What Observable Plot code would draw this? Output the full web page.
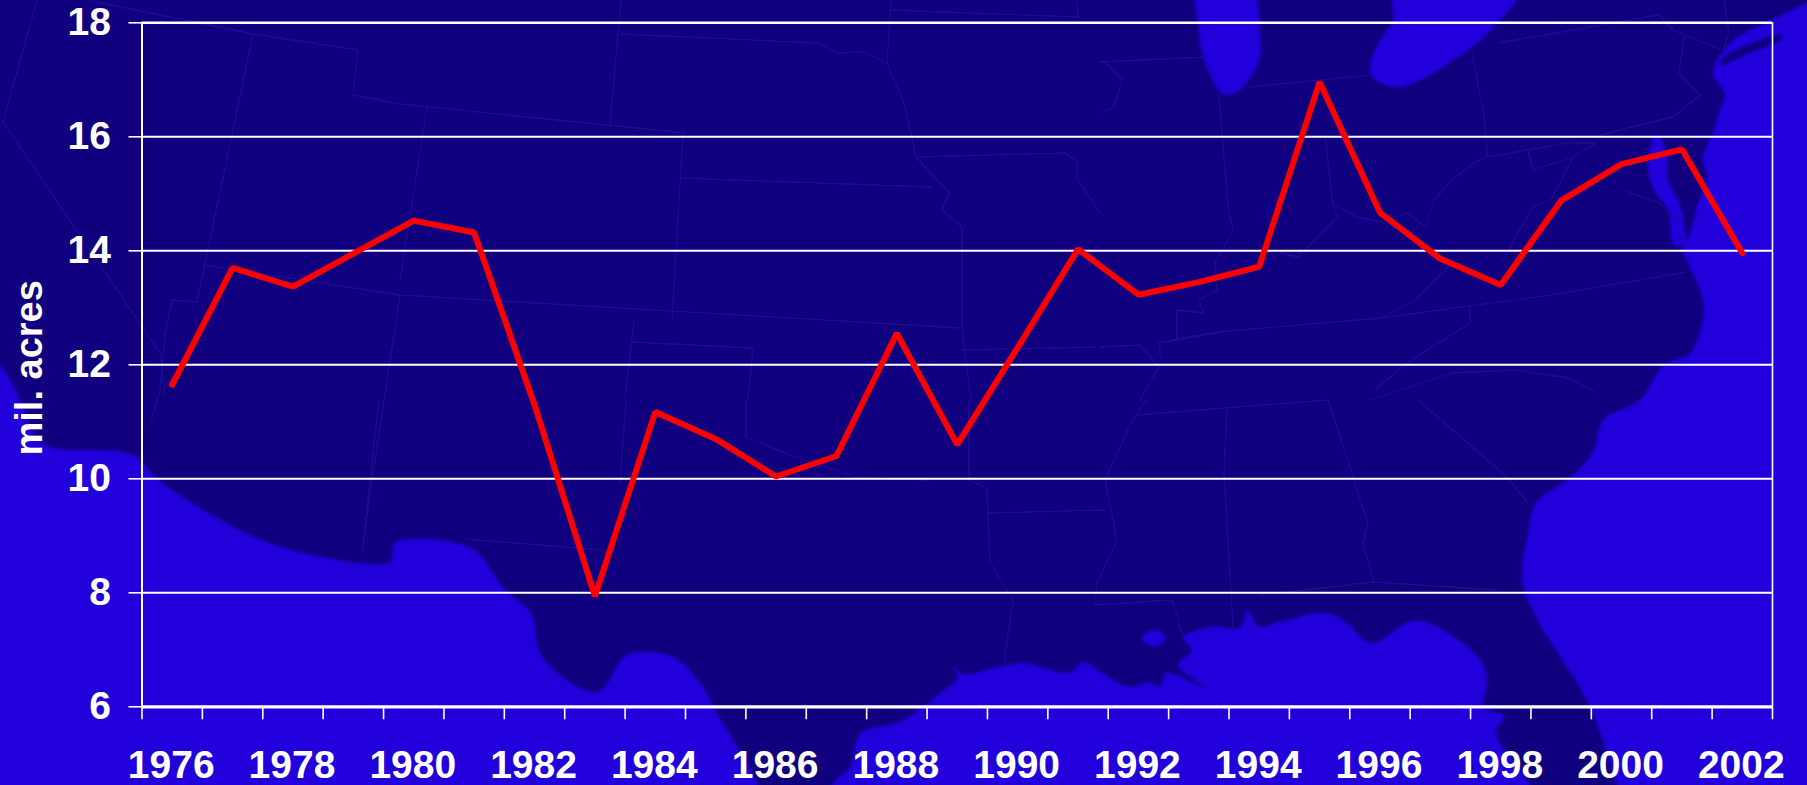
<!DOCTYPE html>
<html>
<head>
<meta charset="utf-8">
<script src="https://cdn.jsdelivr.net/npm/d3@7"></script>
<script src="https://cdn.jsdelivr.net/npm/@observablehq/plot@0.6"></script>
<style>
html,body{margin:0;padding:0;background:#2000dc;overflow:hidden}
#stage{position:relative;width:1807px;height:785px;overflow:hidden}
#stage svg{position:absolute;left:0;top:0;display:block}
</style>
</head>
<body>
<div id="stage"></div>
<script>
// Chart data
const years = [1976,1977,1978,1979,1980,1981,1982,1983,1984,1985,1986,1987,1988,1989,1990,1991,1992,1993,1994,1995,1996,1997,1998,1999,2000,2001,2002];
const acres = [11.65,13.7,13.37,13.95,14.53,14.32,11.3,7.94,11.17,10.7,10.04,10.4,12.55,10.6,12.3,14.03,13.23,13.45,13.72,16.96,14.67,13.86,13.4,14.88,15.52,15.78,13.96];
const yTicks = [6,8,10,12,14,16,18];
const yearLabels = [1976,1978,1980,1982,1984,1986,1988,1990,1992,1994,1996,1998,2000,2002];
const yAxisLabel = "mil. acres";

// Decorative backdrop (map of the eastern and central US), not data
const LAND = "#10007f", WATER = "#2000dc", BORDER = "#1c0d90";
const waterShapes = [
 "-30,340 0,365 17,393 37,437 50,447 133,455 161,482 275,545 390,562 392,552 396,542 471,548 505,590 531,613 542,657 597,692 623,658 637,652 675,658 703,687 715,710 758,785 770,830 -30,830",
 "820,830 832,785 850,767 861,733 900,722 940,693 958,677 952,667 964,674 998,667 1024,663 1068,673 1085,662 1097,670 1131,687 1149,682 1160,687 1166,673 1204,687 1178,665 1192,650 1183,638 1212,627 1241,627 1247,610 1259,627 1276,623 1325,613 1345,622 1371,643 1409,622 1426,622 1478,657 1487,680 1484,707 1504,717 1496,733 1530,785 1545,830",
 "1630,830 1617,785 1588,703 1536,617 1522,580 1528,533 1536,503 1571,477 1594,450 1603,420 1640,400 1664,365 1690,353 1704,307 1690,267 1683,250 1690,233 1697,207 1707,177 1703,157 1713,133 1720,110 1725,95 1713,73 1730,43 1772,20 1807,3 1850,-20 1850,830",
 "1199,-30 1199,33 1206,65 1222,93 1235,93 1249,80 1260,57 1260,37 1247,-30",
 "1393,-30 1393,20 1380,40 1370,73 1393,87 1416,82 1443,67 1488,33 1530,-30",
 "1142,638 1154,630 1166,638 1154,647",
 "1656,135 1648,165 1654,190 1668,210 1674,245 1684,245 1680,205 1668,180 1666,150"
];
const landShapes = ["1720,65 1723,58 1780,35 1783,38 1750,53"];
const borders = [
 "M37,0 3,122 160,353 165,395","M87,0 253,34 358,50 353,95 400,104 686,133","M253,34 197,302","M203,265 400,295 960,328",
 "M400,295 372,480 362,553","M197,302 172,300 165,335 160,390 150,425","M427,107 400,280","M621,0 610,125",
 "M621,34 817,43 837,53 864,52 887,63 904,103 916,157 949,193 942,210 962,227 962,328 971,400","M891,0 887,63",
 "M683,133 672,320","M681,178 931,187","M634,320 625,400","M632,342 753,348 748,400","M962,350 1096,347",
 "M918,157 1065,153 1078,163 1076,177 1100,213","M890,10 1079,17 1076,0","M746,400 746,437 790,455 860,478 930,480",
 "M626,400 620,483","M465,539 603,550","M379,400 362,553",
 "M969,400 969,480 987,488 990,563 1013,600 1004,663","M987,513 1105,510","M1137,415 1224,408 1328,400",
 "M1146,400 1131,423 1105,480 1117,540 1097,583 1094,605 1172,600 1183,637","M1227,408 1224,473 1233,627",
 "M1328,400 1368,523 1363,543 1374,582 1496,590","M1374,582 1259,595","M1418,400 1507,477 1528,503",
 "M1100,62 1204,57","M1105,62 1122,80 1114,107 1100,113",
 "M1219,95 1228,207 1233,230 1215,263 1217,290 1199,300 1204,313 1177,310 1177,340",
 "M1249,87 1370,75","M1325,133 1332,200 1337,217 1298,257 1280,253 1258,267",
 "M1332,203 1357,217 1380,222 1407,213 1425,227","M1472,52 1483,110 1488,157 1573,142",
 "M1488,155 1474,163 1452,180 1434,200 1425,227","M1499,43 1659,15 1673,30 1722,50",
 "M1684,37 1679,73 1700,95 1673,117 1600,135","M1724,0 1729,33 1722,53",
 "M1172,340 1217,332 1380,318 1551,295 1686,272","M1452,263 1416,300 1380,318",
 "M1470,307 1470,323 1407,363 1375,390","M1370,400 1452,373 1515,370 1569,378 1596,393",
 "M1100,347 1140,345 1159,367 1140,400","M1222,332 1159,343 1161,357",
 "M1573,143 1596,143 1573,157 1533,170 1528,150","M1573,157 1551,200 1533,207 1501,263","M1623,190 1659,203 1682,223"
];

const smoothClosed = d3.line().curve(d3.curveCatmullRomClosed.alpha(0.5));
const shapePath = s => smoothClosed(s.split(" ").map(p => p.split(",").map(Number)));

const stage = document.getElementById("stage");
stage.insertAdjacentHTML("beforeend",
 `<svg width="1807" height="785" viewBox="0 0 1807 785" aria-hidden="true">
   <defs>
     <filter id="soft" x="-5%" y="-5%" width="110%" height="110%"><feGaussianBlur stdDeviation="1.6"/></filter>
     <filter id="softLine" x="-5%" y="-5%" width="110%" height="110%"><feGaussianBlur stdDeviation="0.45"/></filter>
   </defs>
   <rect width="1807" height="785" fill="${LAND}"/>
   <g fill="${WATER}" filter="url(#soft)">${waterShapes.map(s => `<path d="${shapePath(s)}"/>`).join("")}</g>
   <g fill="${LAND}" filter="url(#soft)">${landShapes.map(s => `<path d="${shapePath(s)}"/>`).join("")}</g>
   <g fill="none" stroke="${BORDER}" stroke-width="1.3" stroke-linejoin="round" filter="url(#softLine)">${borders.map(d => `<path d="${d}"/>`).join("")}</g>
  </svg>`);

// Tick marks sit on the band edges between years, labels in the band centres
const yearEdges = d3.range(years[0] - 0.5, years[years.length - 1] + 1);
const FONT = "'Liberation Sans', Arial, sans-serif";

const chart = Plot.plot({
  width: 1807,
  height: 785,
  marginLeft: 141.5,
  marginRight: 35,
  marginTop: 22.3,
  marginBottom: 78.7,
  style: {background: "transparent", fontFamily: FONT, fontWeight: "bold", overflow: "visible"},
  x: {domain: [years[0] - 0.5, years[years.length - 1] + 0.5]},
  y: {domain: [6, 18]},
  marks: [
    Plot.ruleY(yTicks.slice(1, -1), {y: d => d, stroke: "white", strokeWidth: 2}),
    Plot.ruleY([18], {stroke: "white", strokeWidth: 2.6}),
    Plot.ruleY([6], {stroke: "white", strokeWidth: 3.2}),
    Plot.ruleX([yearEdges[0]], {stroke: "white", strokeWidth: 2}),
    Plot.ruleX([yearEdges[yearEdges.length - 1]], {stroke: "white", strokeWidth: 1.6}),
    Plot.axisY({ticks: yTicks, tickSize: 13, tickPadding: 18, tickFormat: d => String(d), label: null,
      fontSize: 39, fontWeight: "bold", color: "white", stroke: "white", strokeWidth: 1.6}),
    Plot.axisX({ticks: yearEdges, tickSize: 13, tickFormat: () => "", label: null, stroke: "white", strokeWidth: 1.6}),
    Plot.axisX({ticks: yearLabels, tickSize: 0, tickPadding: 43, dx: -1, tickFormat: d => String(d), label: null,
      fontSize: 39, fontWeight: "bold", color: "white"}),
    Plot.text([yAxisLabel], {frameAnchor: "left", rotate: -90, dx: -112.5, dy: 3, fill: "white",
      fontSize: 38, fontWeight: "bold", textAnchor: "middle"}),
    Plot.line(years.map((y, i) => ({year: y, value: acres[i]})), {x: "year", y: "value", stroke: "#ff0000",
      strokeWidth: 6, strokeLinejoin: "miter", strokeLinecap: "round", curve: "linear"})
  ]
});
stage.appendChild(chart);
</script>
</body>
</html>
